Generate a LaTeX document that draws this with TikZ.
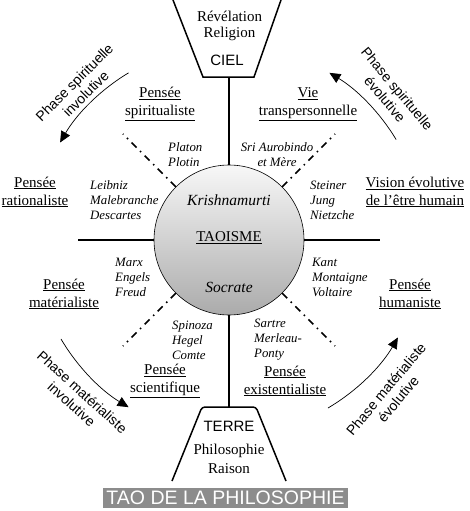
\documentclass[tikz,border=0pt]{standalone}
\usepackage{fontspec}
\setmainfont{Liberation Serif}
\newfontfamily\sansf{Liberation Sans}
\usetikzlibrary{arrows.meta,shapes.geometric}
\begin{document}
\begin{tikzpicture}[x=1pt,y=1pt,
  axisline/.style={line width=2pt},
  trap/.style={line width=1.5pt, line join=miter},
  diag/.style={line width=1.6pt, dash pattern=on 7pt off 5pt on 1.5pt off 5pt},
  phasearrow/.style={line width=0.7pt, -{Triangle[length=11pt,width=10pt]}},
  lab/.style={align=center, inner sep=0pt, font=\fontsize{15}{18}\selectfont},
  names/.style={align=left, inner sep=0pt, anchor=west, font=\fontsize{12.8}{15}\selectfont\itshape},
  cnames/.style={align=center, inner sep=0pt, font=\fontsize{12.8}{15}\selectfont\itshape},
  phase/.style={align=center, inner sep=0pt, font=\fontsize{14}{16}\selectfont\sansf},
  word/.style={inner sep=0pt, font=\fontsize{15}{18}\selectfont},
  sword/.style={inner sep=0pt, font=\fontsize{15}{18}\selectfont\sansf},
]
\useasboundingbox (0,0) rectangle (470,-511);

% central circle
\node[circle, draw, line width=0.6pt, minimum size=150pt, inner sep=0pt,
      top color=white!97!black, bottom color=black!33] (c) at (229,-240) {};
\node[word, font=\fontsize{15.5}{18}\selectfont\itshape] (kri) at (229,-200) {Krishnamurti};
\node[word] (tao) at (229,-238) {\underline{TAOISME}};
\node[word, font=\fontsize{15.5}{18}\selectfont\itshape] (soc) at (229,-287) {Socrate};

% top trapezoid (CIEL)
\coordinate (tl) at (173,0);
\coordinate (tr) at (281,0);
\coordinate (bl) at (203,-77);
\coordinate (br) at (254,-77);
\coordinate (cielb) at (229,-77);
\draw[trap] (tl) -- (bl) -- (br) -- (tr);
\node[word] (rev) at (229.5,-16) {Révélation};
\node[word] (rel) at (229.5,-34) {Religion};
\node[sword] (ciel) at (227,-60) {CIEL};

% bottom trapezoid (TERRE)
\coordinate (btl) at (202,-407);
\coordinate (btr) at (256,-407);
\coordinate (bbl) at (172,-481);
\coordinate (bbr) at (286,-481);
\coordinate (terret) at (229,-407);
\draw[trap, rounded corners=3pt] (bbl) -- (btl) -- (btr) -- (bbr);
\node[sword] (terre) at (229,-426) {TERRE};
\node[word] (phil) at (229,-451) {Philosophie};
\node[word] (rai) at (229,-469) {Raison};

% axes
\coordinate (hw) at (78,-240);
\coordinate (he) at (380,-240);
\draw[axisline] (c.north) -- (cielb);
\draw[axisline] (c.south) -- (terret);
\draw[axisline] (c.west) -- (hw);
\draw[axisline] (c.east) -- (he);

% diagonals
\coordinate (dne) at ([shift={(45:150)}]c.center);
\coordinate (dnw) at ([shift={(135:150)}]c.center);
\coordinate (dsw) at ([shift={(225:150)}]c.center);
\coordinate (dse) at ([shift={(315:150)}]c.center);
\draw[diag] (c.45) -- (dne);
\draw[diag] (c.135) -- (dnw);
\draw[diag] (c.225) -- (dsw);
\draw[diag] (c.315) -- (dse);

% sector labels
\node[lab] (spi) at (160,-104) {\underline{Pensée}\\\underline{spiritualiste}};
\node[lab] (vie) at (308,-104) {\underline{Vie}\\\underline{transpersonnelle}};
\node[lab] (rat) at (35,-192) {\underline{Pensée}\\\underline{rationaliste}};
\node[lab] (vis) at (415,-192) {\underline{Vision évolutive}\\\underline{de l'être humain}};
\node[lab] (mat) at (64,-294) {\underline{Pensée}\\\underline{matérialiste}};
\node[lab] (hum) at (410,-294) {\underline{Pensée}\\\underline{humaniste}};
\node[lab] (sci) at (165,-381) {\underline{Pensée}\\\underline{scientifique}};
\node[lab] (exi) at (285,-381) {\underline{Pensée}\\\underline{existentialiste}};

% philosophers
\node[names] (pla) at (168,-155) {Platon\\Plotin};
\node[cnames] (sri) at (277,-155) {Sri Aurobindo\\et Mère};
\node[names] (lei) at (90,-200) {Leibniz\\Malebranche\\Descartes};
\node[names] (ste) at (310,-200) {Steiner\\Jung\\Nietzche};
\node[names] (mar) at (115,-277) {Marx\\Engels\\Freud};
\node[names] (kan) at (312,-277) {Kant\\Montaigne\\Voltaire};
\node[names] (spn) at (172,-340) {Spinoza\\Hegel\\Comte};
\node[names] (sar) at (254,-340) {Sartre\\Merleau-\\Ponty};

% phase arrows
\coordinate (a1) at ([shift={(121:195)}]c.center);
\coordinate (a2) at ([shift={(31:195)}]c.center);
\coordinate (a3) at ([shift={(210.5:195)}]c.center);
\coordinate (a4) at ([shift={(-59.5:195)}]c.center);
\draw[phasearrow] (a1) arc[start angle=121, end angle=150, radius=195];
\draw[phasearrow] (a2) arc[start angle=31, end angle=59, radius=195];
\draw[phasearrow] (a3) arc[start angle=210.5, end angle=239, radius=195];
\draw[phasearrow] (a4) arc[start angle=-59.5, end angle=-30, radius=195];

\node[phase, rotate=45] (p1) at (80,-88) {Phase spirituelle\\involutive};
\node[phase, rotate=-50] (p2) at (391,-94) {Phase spirituelle\\évolutive};
\node[phase, rotate=-42] (p3) at (77,-398) {Phase matérialiste\\involutive};
\node[phase, rotate=50] (p4) at (392,-394) {Phase matérialiste\\évolutive};

% title banner
\node[fill=black!45, text=white, minimum width=245pt, minimum height=20pt, inner sep=0pt,
      font=\fontsize{19.5}{20}\selectfont\sansf] (title) at (225.5,-498) {TAO DE LA PHILOSOPHIE};
\end{tikzpicture}
\end{document}
